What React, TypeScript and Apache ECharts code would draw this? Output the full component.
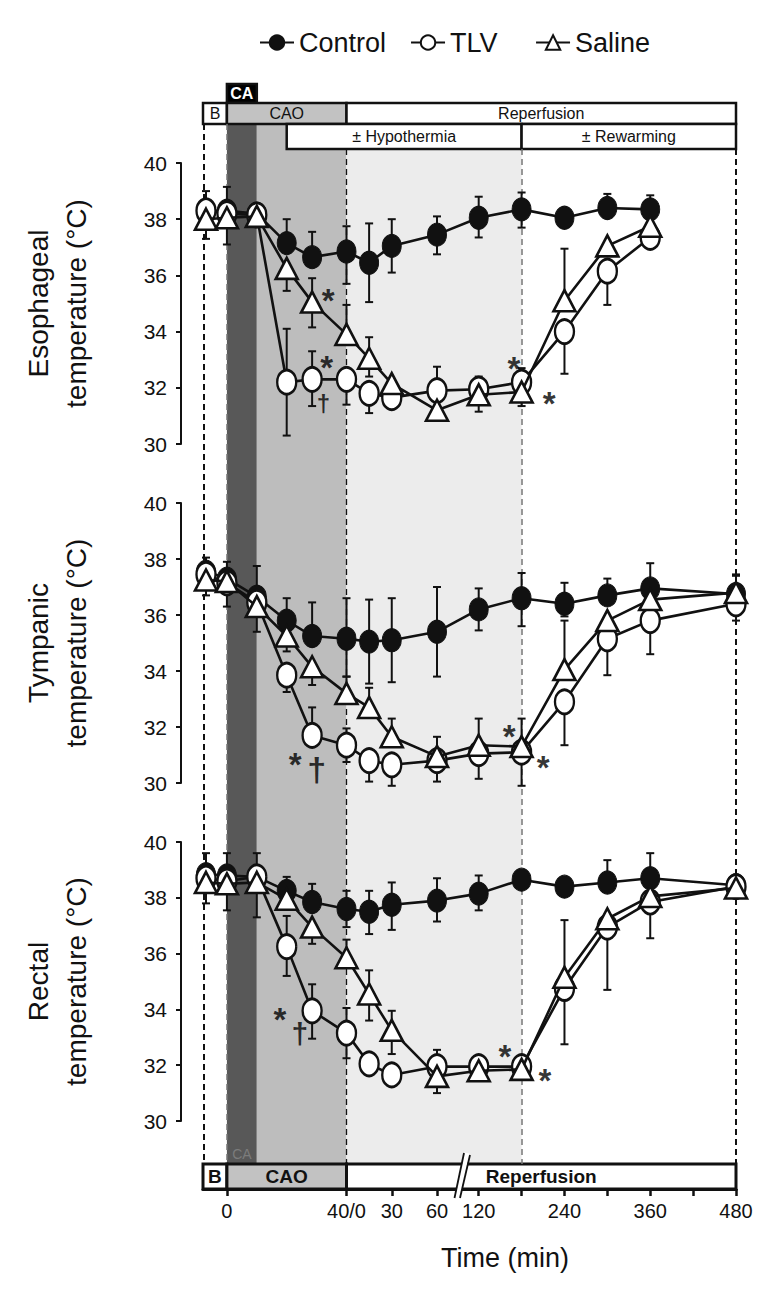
import React, { useEffect, useRef } from "react";
import * as echarts from "echarts";

const FONT = "'Liberation Sans', Arial, Helvetica, sans-serif";
const INK = "#111";

// ---------------- data ----------------
// sampling times: phase (CAO = coronary artery occlusion, REP = reperfusion) + minutes
const PHASES = ["CAO", "CAO", "CAO", "CAO", "CAO", "REP", "REP", "REP", "REP", "REP", "REP", "REP", "REP", "REP", "REP"];
const MINUTES = [-7, 0, 10, 20, 28.5, 0, 15, 30, 60, 120, 180, 240, 300, 360, 480];

const SERIES_NAMES = ["Control", "TLV", "Saline"];

// Esophageal temperature (°C)
const ESO_CONTROL = [38.3, 38.3, 38.2, 37.15, 36.65, 36.85, 36.45, 37.05, 37.45, 38.05, 38.35, 38.05, 38.4, 38.35, null];
const ESO_TLV = [38.3, 38.2, 38.15, 32.2, 32.3, 32.3, 31.8, 31.65, 31.9, 31.95, 32.2, 34.0, 36.15, 37.35, null];
const ESO_SALINE = [38.0, 38.05, 38.1, 36.25, 35.05, 33.9, 33.05, 32.15, 31.2, 31.75, 31.85, 35.1, 37.05, 37.75, null];
const ESO_CONTROL_ERR = [[38.3, 39.0], [38.3, 39.15], null, [37.15, 38.0], [36.65, 37.55], [35.7, 37.75], [35.05, 37.85], [36.1, 38.0], [36.75, 38.1], [37.35, 38.8], [37.7, 38.95], null, [38.4, 38.9], [38.35, 38.85], null];
const ESO_TLV_ERR = [null, null, null, [30.3, 34.1], [31.35, 33.3], [31.4, 32.3], [31.1, 31.8], [31.25, 31.65], [31.9, 32.75], null, [32.25, 32.7], [32.5, 34.0], [34.95, 36.15], null, null];
const ESO_SALINE_ERR = [[37.3, 38.0], [37.1, 38.05], null, [35.45, 36.25], [34.15, 35.9], [33.9, 34.95], [32.4, 33.8], null, [30.9, 31.2], [31.15, 32.4], [31.35, 31.85], [35.1, 36.95], null, null, null];

// Tympanic temperature (°C)
const TYM_CONTROL = [37.55, 37.3, 36.65, 35.8, 35.25, 35.15, 35.05, 35.1, 35.4, 36.2, 36.6, 36.4, 36.7, 36.95, 36.75];
const TYM_TLV = [37.45, 37.15, 36.45, 33.85, 31.7, 31.35, 30.8, 30.65, 30.8, 31.05, 31.1, 32.9, 35.15, 35.8, 36.4];
const TYM_SALINE = [37.25, 37.2, 36.3, 35.25, 34.15, 33.2, 32.7, 31.65, 30.95, 31.35, 31.3, 34.05, 35.8, 36.55, 36.8];
const TYM_CONTROL_ERR = [[37.55, 38.05], [37.3, 37.9], [36.65, 37.75], [35.8, 36.6], [35.25, 36.45], [33.8, 36.6], [33.55, 36.55], [33.6, 36.6], [33.8, 37.0], [35.45, 36.95], [35.6, 37.5], [35.95, 37.15], [36.7, 37.3], [36.95, 37.85], [36.75, 37.45]];
const TYM_TLV_ERR = [[36.7, 37.45], [36.3, 37.15], [35.4, 36.45], [33.25, 33.85], [31.7, 32.7], [30.75, 31.95], [30.05, 30.8], [29.9, 30.65], [30.05, 30.8], [30.15, 31.05], [29.9, 31.1], [31.35, 32.9], [33.85, 35.15], [34.6, 35.8], [35.8, 36.4]];
const TYM_SALINE_ERR = [null, null, null, [34.7, 35.25], [33.5, 34.15], [33.2, 33.8], [32.7, 33.4], [31.65, 32.3], [30.95, 31.65], [31.35, 32.3], [31.3, 32.3], [34.05, 35.8], null, null, [36.8, 37.4]];

// Rectal temperature (°C)
const REC_CONTROL = [38.85, 38.8, 38.75, 38.25, 37.85, 37.6, 37.5, 37.75, 37.9, 38.15, 38.65, 38.4, 38.55, 38.7, 38.45];
const REC_TLV = [38.7, 38.6, 38.75, 36.25, 33.95, 33.15, 32.05, 31.65, 31.95, 31.95, 31.95, 34.75, 36.95, 37.85, 38.4];
const REC_SALINE = [38.55, 38.5, 38.55, 37.95, 36.95, 35.85, 34.55, 33.25, 31.6, 31.8, 31.85, 35.15, 37.25, 38.05, 38.35];
const REC_CONTROL_ERR = [[38.85, 39.6], [38.8, 39.6], [38.75, 39.6], [38.25, 38.75], [37.85, 38.5], [36.95, 38.25], [36.7, 38.25], [36.85, 38.55], [37.15, 38.7], [37.55, 38.8], null, null, [38.55, 39.35], [38.7, 39.6], null];
const REC_TLV_ERR = [[37.8, 38.7], [37.55, 38.6], [37.3, 38.75], [35.2, 37.35], [32.95, 34.9], [32.25, 34.05], null, null, [32.0, 32.55], null, null, [32.75, 37.2], [34.7, 36.95], [36.55, 37.85], null];
const REC_SALINE_ERR = [null, null, null, null, [36.35, 36.95], [35.85, 36.5], [33.6, 35.4], [32.4, 33.95], [31.0, 31.6], null, null, null, null, null, null];

// significance marks: [symbol, phase, minutes, temperature]
const ESO_MARKS = [["*", "CAO", 33.9, 35.43], ["*", "CAO", 33.4, 33.05], ["†", "CAO", 32.3, 31.45], ["*", "REP", 169.4, 33.0], ["*", "REP", 218.7, 31.75]];
const TYM_MARKS = [["*", "CAO", 22.8, 30.99], ["†", "CAO", 30.0, 30.51], ["*", "REP", 162.8, 32.0], ["*", "REP", 210.3, 30.87]];
const REC_MARKS = [["*", "CAO", 17.7, 33.97], ["†", "CAO", 24.4, 33.13], ["*", "REP", 156.8, 32.65], ["*", "REP", 212.7, 31.76]];

// x-axis ticks: phase, minutes, label
const X_TICKS = [["CAO", 0, "0"], ["REP", 0, "40/0"], ["REP", 30, "30"], ["REP", 60, "60"], ["REP", 120, "120"], ["REP", 180, ""], ["REP", 240, "240"], ["REP", 300, ""], ["REP", 360, "360"], ["REP", 420, ""], ["REP", 480, "480"]];

const Y_TICKS = { min: 30, max: 40, interval: 2 };
const PANEL_NAMES = ["Esophageal\ntemperature (°C)", "Tympanic\ntemperature (°C)", "Rectal\ntemperature (°C)"];

// ---------------- broken time scale (layout) ----------------
const AXIS_MAX = 533;
const SCALE = [
  { phase: "CAO", t0: -8, t1: 40, u0: 0, u1: 143.5 },
  { phase: "REP", t0: 0, t1: 60, u0: 143.5, u1: 234 },
  { phase: "REP", t0: 60, t1: 120, u0: 234, u1: 275.7 },
  { phase: "REP", t0: 120, t1: 480, u0: 275.7, u1: AXIS_MAX },
];
function toU(phase: string, t: number): number {
  for (const s of SCALE) {
    if (s.phase === phase && t >= s.t0 && t <= s.t1) return s.u0 + ((t - s.t0) * (s.u1 - s.u0)) / (s.t1 - s.t0);
  }
  return 0;
}

const GRID_LEFT = 203;
const PANEL_GRIDS = [
  { top: 163, height: 281 },
  { top: 503, height: 280 },
  { top: 842, height: 279 },
];

function points(vals: (number | null)[]) {
  const out: number[][] = [];
  vals.forEach((v, i) => {
    if (v != null) out.push([toU(PHASES[i], MINUTES[i]), v]);
  });
  return out;
}
function errPoints(errs: (number[] | null)[]) {
  const out: number[][] = [];
  errs.forEach((e, i) => {
    if (e) out.push([toU(PHASES[i], MINUTES[i]), e[0], e[1]]);
  });
  return out;
}

const SERIES_STYLE: any = {
  Control: { symbol: "circle", symbolSize: [19, 23], itemStyle: { color: INK, borderColor: INK, borderWidth: 1 }, z: 10 },
  TLV: { symbol: "circle", symbolSize: [19, 24], itemStyle: { color: "#fff", borderColor: INK, borderWidth: 2.6 }, z: 11 },
  Saline: { symbol: "triangle", symbolSize: [22, 21], itemStyle: { color: "#fff", borderColor: INK, borderWidth: 2.6 }, z: 12 },
};

function errRender(params: any, api: any) {
  const x = api.value(0);
  const p1 = api.coord([x, api.value(1)]);
  const p2 = api.coord([x, api.value(2)]);
  const hw = 4;
  const st = { stroke: INK, lineWidth: 2 };
  return {
    type: "group",
    children: [
      { type: "line", shape: { x1: p1[0], y1: p1[1], x2: p2[0], y2: p2[1] }, style: st },
      { type: "line", shape: { x1: p1[0] - hw, y1: p1[1], x2: p1[0] + hw, y2: p1[1] }, style: st },
      { type: "line", shape: { x1: p2[0] - hw, y1: p2[1], x2: p2[0] + hw, y2: p2[1] }, style: st },
    ],
  };
}

function buildOption() {
  const grids: any[] = [
    { left: GRID_LEFT, width: AXIS_MAX, top: 0, height: 1297 },
    ...PANEL_GRIDS.map((g) => ({ left: GRID_LEFT, width: AXIS_MAX, top: g.top, height: g.height })),
    { left: GRID_LEFT, width: AXIS_MAX, top: 1164, height: 25 },
  ].map((g) => ({ ...g, outerBoundsMode: "none", containLabel: false }));

  const tickU = X_TICKS.map((t) => toU(t[0] as string, t[1] as number));
  const tickLabel = (v: number) => {
    for (const t of X_TICKS) if (Math.abs(toU(t[0] as string, t[1] as number) - v) < 0.01) return t[2] as string;
    return "";
  };

  const xAxes: any[] = [0, 1, 2, 3].map((i) => ({ gridIndex: i, type: "value", min: 0, max: AXIS_MAX, show: false }));
  xAxes.push({
    gridIndex: 4,
    type: "value",
    min: 0,
    max: AXIS_MAX,
    splitLine: { show: false },
    axisLine: { show: true, onZero: false, lineStyle: { color: INK, width: 3 } },
    axisTick: { show: true, customValues: tickU, length: 7, lineStyle: { color: INK, width: 2.5 } },
    axisLabel: { customValues: tickU, formatter: tickLabel, fontSize: 20, color: INK, fontFamily: FONT, margin: 12 },
  });

  const yAxes: any[] = [{ gridIndex: 0, type: "value", min: 0, max: 1297, inverse: true, show: false }];
  PANEL_NAMES.forEach((name, i) => {
    yAxes.push({
      gridIndex: i + 1,
      type: "value",
      min: Y_TICKS.min,
      max: Y_TICKS.max,
      interval: Y_TICKS.interval,
      position: "left",
      offset: 22,
      splitLine: { show: false },
      axisLine: { show: true, onZero: false, lineStyle: { color: INK, width: 2 } },
      axisTick: { show: true, length: 5, lineStyle: { color: INK, width: 2 } },
      axisLabel: { fontSize: 21, color: INK, fontFamily: FONT, margin: 14 },
      name,
      nameLocation: "middle",
      nameGap: 86,
      nameRotate: 90,
      nameTextStyle: { fontSize: 28, lineHeight: 38, color: INK, fontFamily: FONT },
    });
  });
  yAxes.push({ gridIndex: 4, type: "value", min: 0, max: 1, show: false });

  const series: any[] = [];

  // background bands
  const bandTop = 124;
  const bandBottom = 1164;
  series.push({
    name: "bands",
    type: "scatter",
    xAxisIndex: 0,
    yAxisIndex: 0,
    symbol: "none",
    data: [[0, 0]],
    silent: true,
    z: 1,
    markArea: {
      silent: true,
      data: [
        [
          {
            name: "CA",
            coord: [toU("CAO", 0), bandTop],
            itemStyle: { color: "#585858" },
            label: { show: true, position: "insideBottom", distance: 3, color: "#7c7c7c", fontSize: 14, fontFamily: FONT },
          },
          { coord: [toU("CAO", 10), bandBottom] },
        ],
        [{ coord: [toU("CAO", 10), bandTop], itemStyle: { color: "#bdbdbd" }, label: { show: false } }, { coord: [toU("CAO", 40), bandBottom] }],
        [{ coord: [toU("REP", 0), bandTop], itemStyle: { color: "#ececec" }, label: { show: false } }, { coord: [toU("REP", 180), bandBottom] }],
      ],
    },
  });

  // dashed phase lines
  const dash = (u: number, y1: number, color: string, width: number) => [
    { coord: [u, y1], lineStyle: { color, width, type: [6, 4] } },
    { coord: [u, bandBottom] },
  ];
  series.push({
    name: "phaseLines",
    type: "scatter",
    xAxisIndex: 0,
    yAxisIndex: 0,
    symbol: "none",
    data: [[0, 0]],
    silent: true,
    z: 2,
    markLine: {
      silent: true,
      symbol: ["none", "none"],
      label: { show: false },
      data: [
        dash(toU("CAO", -8) + 0.5, 124, INK, 2),
        dash(toU("CAO", 0), 124, "#777", 1.5),
        dash(toU("REP", 0), 149, INK, 1.3),
        dash(toU("REP", 180), 149, "#777", 1.5),
        dash(toU("REP", 480), 149, INK, 2),
      ],
    },
  });

  // top phase boxes
  const box = (name: string, p0: string, t0: number, p1: string, t1: number, y0: number, y1: number, fill: string, label: any) => [
    {
      name,
      coord: [toU(p0, t0), y0],
      itemStyle: { color: fill, borderColor: INK, borderWidth: 2.5 },
      label: { show: true, position: "inside", fontFamily: FONT, color: INK, fontSize: 16, ...label },
    },
    { coord: [toU(p1, t1), y1] },
  ];
  series.push({
    name: "topBoxes",
    type: "scatter",
    xAxisIndex: 0,
    yAxisIndex: 0,
    symbol: "none",
    data: [[0, 0]],
    silent: true,
    z: 4,
    markArea: {
      silent: true,
      data: [
        box("CA", "CAO", 0, "CAO", 10, 84, 103, "#000", { color: "#fff", fontWeight: "bold" }),
        box("B", "CAO", -8, "CAO", 0, 103, 124, "#fff", {}),
        box("CAO", "CAO", 0, "CAO", 40, 103, 124, "#c2c2c2", {}),
        box("Reperfusion", "REP", 0, "REP", 480, 103, 124, "#fff", {}),
        box("± Hypothermia", "CAO", 20, "REP", 180, 124, 149, "#fff", {}),
        box("± Rewarming", "REP", 180, "REP", 480, 124, 149, "#fff", {}),
      ],
    },
  });

  // bottom phase bar (grid 4)
  const bbox = (name: string, p0: string, t0: number, p1: string, t1: number, fill: string) => [
    {
      name,
      coord: [toU(p0, t0), 0],
      itemStyle: { color: fill, borderColor: INK, borderWidth: 3 },
      label: { show: true, position: "inside", fontFamily: FONT, color: INK, fontSize: 19, fontWeight: "bold" },
    },
    { coord: [toU(p1, t1), 1] },
  ];
  series.push({
    name: "bottomBoxes",
    type: "scatter",
    xAxisIndex: 4,
    yAxisIndex: 4,
    symbol: "none",
    data: [[0, 0]],
    silent: true,
    z: 4,
    markArea: {
      silent: true,
      data: [bbox("B", "CAO", -8, "CAO", 0, "#fff"), bbox("CAO", "CAO", 0, "CAO", 40, "#c2c2c2"), bbox("Reperfusion", "REP", 0, "REP", 480, "#fff")],
    },
  });

  // axis break mark
  series.push({
    name: "axisBreak",
    type: "scatter",
    xAxisIndex: 0,
    yAxisIndex: 0,
    symbol: "none",
    data: [[0, 0]],
    silent: true,
    z: 20,
    markLine: {
      silent: true,
      symbol: ["none", "none"],
      label: { show: false },
      data: [
        [{ coord: [264, 1153], lineStyle: { color: "#fff", width: 5, type: "solid" } }, { coord: [254.3, 1199] }],
        [{ coord: [261, 1153], lineStyle: { color: INK, width: 1.8, type: "solid" } }, { coord: [251.5, 1198] }],
        [{ coord: [267, 1155], lineStyle: { color: INK, width: 1.8, type: "solid" } }, { coord: [257, 1198] }],
      ],
    },
  });

  // data panels
  const panels = [
    { vals: [ESO_CONTROL, ESO_TLV, ESO_SALINE], errs: [ESO_CONTROL_ERR, ESO_TLV_ERR, ESO_SALINE_ERR], marks: ESO_MARKS, dagger: 24 },
    { vals: [TYM_CONTROL, TYM_TLV, TYM_SALINE], errs: [TYM_CONTROL_ERR, TYM_TLV_ERR, TYM_SALINE_ERR], marks: TYM_MARKS, dagger: 34 },
    { vals: [REC_CONTROL, REC_TLV, REC_SALINE], errs: [REC_CONTROL_ERR, REC_TLV_ERR, REC_SALINE_ERR], marks: REC_MARKS, dagger: 30 },
  ];
  panels.forEach((p, k) => {
    const ax = k + 1;
    SERIES_NAMES.forEach((nm, j) => {
      series.push({
        name: nm + "-err",
        type: "custom",
        xAxisIndex: ax,
        yAxisIndex: ax,
        silent: true,
        z: 5,
        clip: false,
        encode: { x: 0, y: [1, 2] },
        renderItem: errRender,
        data: errPoints(p.errs[j] as any),
      });
    });
    SERIES_NAMES.forEach((nm, j) => {
      const st = SERIES_STYLE[nm];
      series.push({
        name: nm,
        type: "line",
        xAxisIndex: ax,
        yAxisIndex: ax,
        data: points(p.vals[j] as any),
        symbol: st.symbol,
        symbolSize: st.symbolSize,
        showAllSymbol: true,
        itemStyle: st.itemStyle,
        lineStyle: { color: INK, width: 2.6 },
        z: st.z,
        clip: false,
        silent: true,
      });
    });
    series.push({
      name: "marks",
      type: "scatter",
      xAxisIndex: ax,
      yAxisIndex: ax,
      symbol: "circle",
      symbolSize: 1,
      itemStyle: { color: "rgba(0,0,0,0)" },
      silent: true,
      clip: false,
      z: 15,
      data: p.marks.map((m: any) => ({
        value: [toU(m[1], m[2]), m[3]],
        name: m[0],
        label: {
          show: true,
          position: "inside",
          formatter: "{b}",
          fontFamily: FONT,
          color: "#000",
          fontWeight: "bold",
          fontSize: m[0] === "*" ? 33 : p.dagger,
          offset: m[0] === "*" ? [0, 9] : [0, 0],
        },
      })),
    });
  });

  return {
    animation: false,
    backgroundColor: "#fff",
    textStyle: { fontFamily: FONT },
    legend: {
      data: SERIES_NAMES,
      formatter: (name: string) => (name === "TLV" ? "TLV\u2002" : name),
      left: 254,
      top: 24,
      itemWidth: 34,
      itemHeight: 18,
      itemGap: 24,
      textStyle: { fontSize: 27, color: INK, fontFamily: FONT },
      selectedMode: false,
    },
    grid: grids,
    xAxis: xAxes,
    yAxis: yAxes,
    graphic: [
      {
        type: "text",
        x: 505,
        y: 1258,
        style: { text: "Time (min)", fontSize: 27, fontFamily: FONT, fill: INK, align: "center", verticalAlign: "middle" },
      },
    ],
    series,
  };
}

export default function App() {
  const ref = useRef<HTMLDivElement>(null);
  useEffect(() => {
    document.body.style.margin = "0";
    const chart = echarts.init(ref.current!, null, { renderer: "svg" });
    chart.setOption(buildOption() as any);
    return () => chart.dispose();
  }, []);
  return <div ref={ref} style={{ width: 774, height: 1297 }} />;
}
